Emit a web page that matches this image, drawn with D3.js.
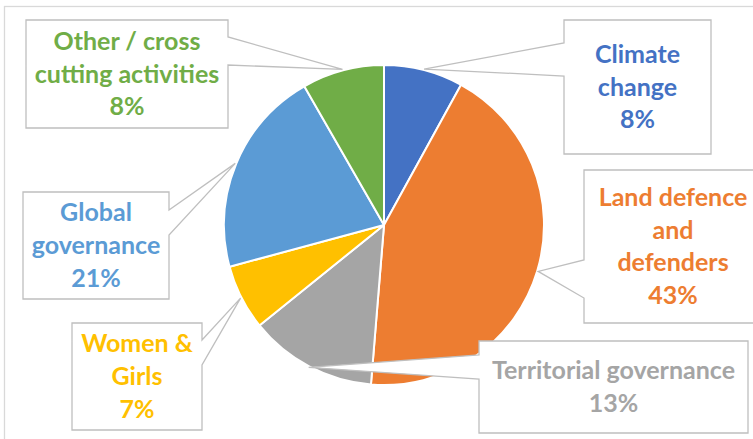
<!DOCTYPE html>
<html>
<head>
<meta charset="utf-8">
<script src="https://cdn.jsdelivr.net/npm/d3@7"></script>
<style>
  html, body { margin: 0; padding: 0; background: #fff; }
  svg { display: block; }
</style>
</head>
<body>
<svg id="chart"></svg>
<script>
// Categories, clockwise from 12 o'clock
const categories = ["Climate change", "Land defence and defenders", "Territorial governance",
                    "Women & Girls", "Global governance", "Other / cross cutting activities"];
// label lines as they wrap in the callouts
const labelLines = [
  ["Climate", "change"],
  ["Land defence", "and", "defenders"],
  ["Territorial governance"],
  ["Women &", "Girls"],
  ["Global", "governance"],
  ["Other / cross", "cutting activities"]
];
const shares = [8.0, 43.3, 12.9, 6.6, 20.9, 8.3];
const colors = ["#4472C4", "#ED7D31", "#A5A5A5", "#FFC000", "#5B9BD5", "#70AD47"];

// callout box layout: [x, y, w, h], side of the pointer, pointer base y's
const callouts = [
  {box: [564, 20, 147, 134], side: "left",  base: [43, 76]},
  {box: [584, 170, 178, 153], side: "left",  base: [260, 298]},
  {box: [479, 341, 269, 92],  side: "left",  base: [355, 379]},
  {box: [72, 323, 130, 107],  side: "right", base: [340, 365]},
  {box: [23, 192, 146, 107],  side: "right", base: [210, 235]},
  {box: [26, 20, 202, 108],   side: "right", base: [37, 65]}
];

const W = 753, H = 439;
const cx = 384, cy = 225, radius = 160;

const svg = d3.select("#chart")
    .attr("width", W)
    .attr("height", H);

// chart area border (runs off the right/bottom edge)
svg.append("rect")
    .attr("x", 4.5).attr("y", 6.5)
    .attr("width", W + 20).attr("height", H + 20)
    .attr("fill", "#fff")
    .attr("stroke", "#D9D9D9")
    .attr("stroke-width", 1.3);

const pie = d3.pie().sort(null).value(d => d);
const arcs = pie(shares);

const arc = d3.arc().innerRadius(0).outerRadius(radius);
const edgeArc = d3.arc().innerRadius(radius + 1).outerRadius(radius + 1);

const g = svg.append("g")
    .attr("transform", "translate(" + cx + "," + cy + ")");

g.selectAll("path.slice")
    .data(arcs)
    .enter().append("path")
    .attr("class", "slice")
    .attr("d", arc)
    .attr("fill", (d, i) => colors[i])
    .attr("stroke", "#fff")
    .attr("stroke-width", 2)
    .attr("stroke-linejoin", "round");

// callout shape: box with a wedge pointing at the slice edge
function calloutPath(c, tip) {
  const [x, y, w, h] = c.box;
  const [b1, b2] = c.base;
  const tx = tip[0] + cx, ty = tip[1] + cy;
  if (c.side === "left") {
    return "M" + x + "," + y + "H" + (x + w) + "V" + (y + h) + "H" + x +
        "V" + b2 + "L" + tx + "," + ty + "L" + x + "," + b1 + "Z";
  }
  return "M" + x + "," + y + "H" + (x + w) + "V" + b1 + "L" + tx + "," + ty +
      "L" + (x + w) + "," + b2 + "V" + (y + h) + "H" + x + "Z";
}

const fontSize = 25, lineH = 32.7;

const labels = svg.selectAll("g.callout")
    .data(arcs)
    .enter().append("g")
    .attr("class", "callout");

labels.append("path")
    .attr("d", (d, i) => calloutPath(callouts[i], edgeArc.centroid(d)))
    .attr("fill", "#fff")
    .attr("stroke", "#BFBFBF")
    .attr("stroke-width", 1.3)
    .attr("stroke-linejoin", "miter");

labels.each(function(d, i) {
  const c = callouts[i];
  const lines = labelLines[i].concat([Math.round(shares[i]) + "%"]);
  const midX = c.box[0] + c.box[2] / 2;
  const midY = c.box[1] + c.box[3] / 2;
  const first = midY - (lines.length - 1) * lineH / 2 + fontSize * 0.34;
  d3.select(this).selectAll("text")
      .data(lines)
      .enter().append("text")
      .attr("x", midX)
      .attr("y", (t, j) => first + j * lineH)
      .attr("text-anchor", "middle")
      .attr("font-family", "Lato, 'Open Sans', sans-serif")
      .attr("font-weight", "bold")
      .attr("font-size", fontSize)
      .attr("fill", colors[i])
      .text(t => t);
});
</script>
</body>
</html>
